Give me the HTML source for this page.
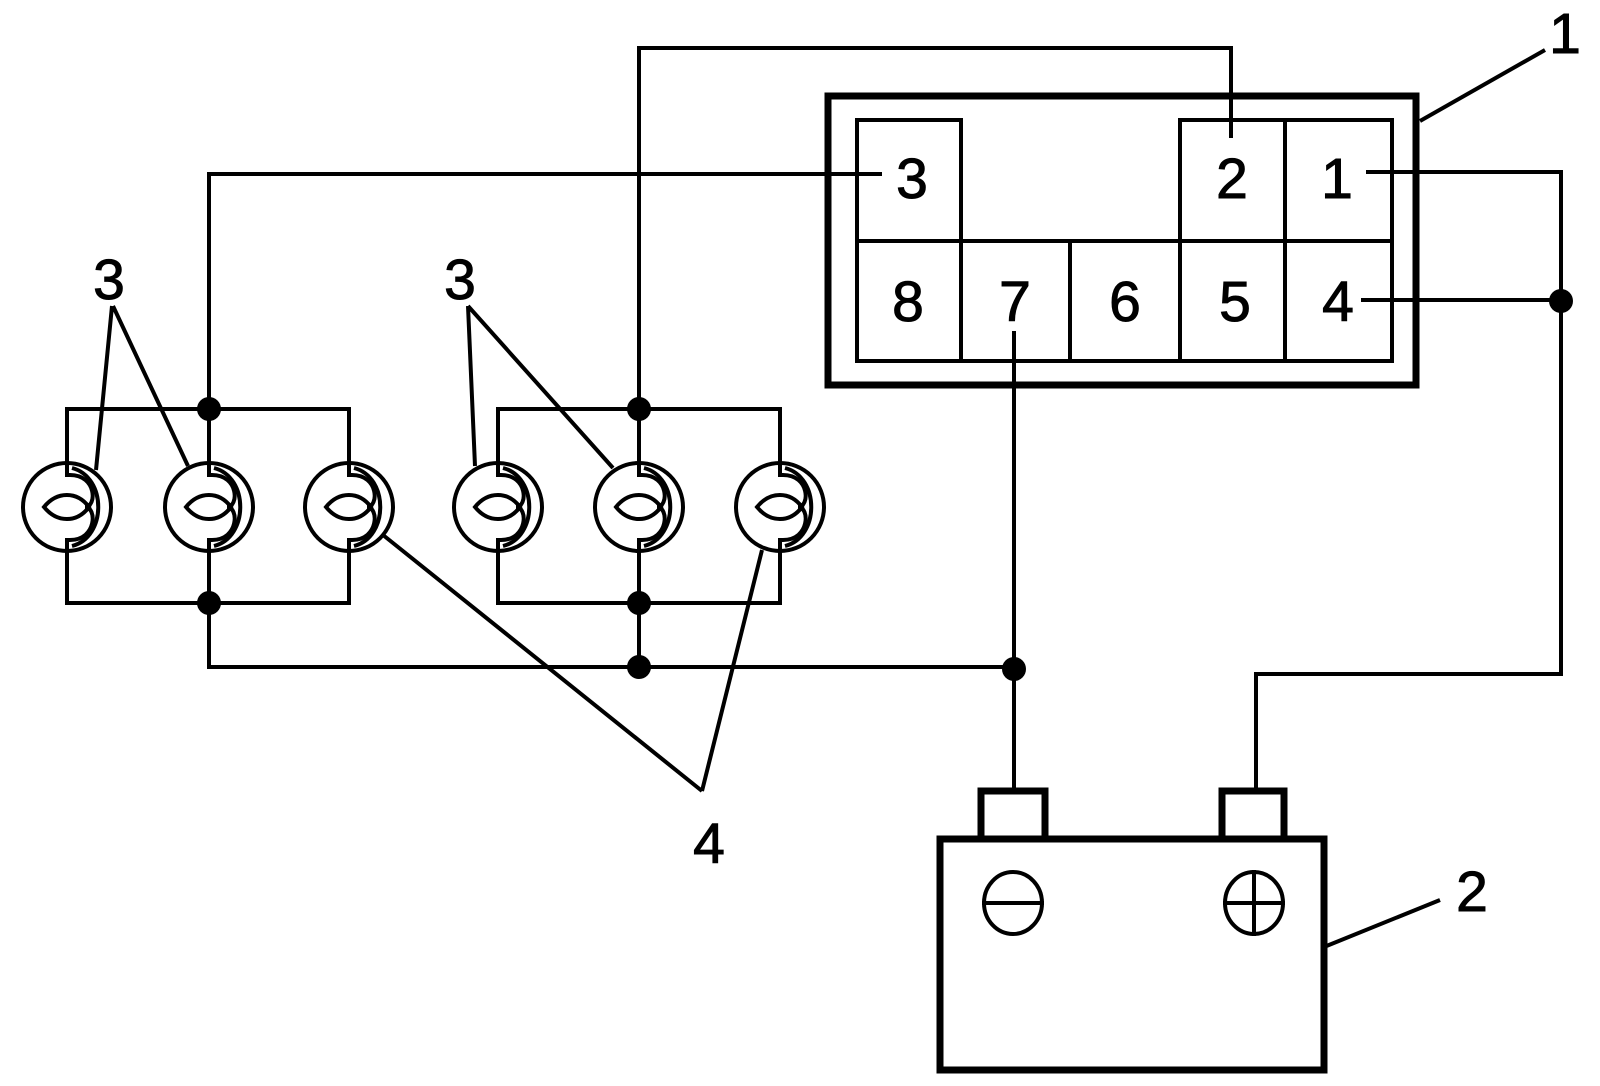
<!DOCTYPE html>
<html><head><meta charset="utf-8"><style>
html,body{margin:0;padding:0;background:#fff;}
svg{display:block;}
text{font-family:"Liberation Sans",sans-serif;font-size:57px;fill:#000;text-anchor:middle;stroke:#000;stroke-width:1;}
</style></head><body>
<svg width="1600" height="1086" viewBox="0 0 1600 1086" xmlns="http://www.w3.org/2000/svg">
<defs>
<g id="lamp" fill="none" stroke="#000" stroke-width="4">
  <circle cx="0" cy="0" r="44"/>
  <path d="M0,-44 V-32 H3 C30,-32 30,0 18,0 C30,0 30,33 3,33 H0 V44"/>
  <path d="M5,-39 C40,-30 40,30 5,39"/>
  <path d="M-23,0 C-10,-16 10,-16 22,0 C10,16 -10,16 -23,0 Z"/>
</g>
</defs>
<g fill="none" stroke="#000" stroke-width="4" stroke-linecap="square">
  <rect x="828" y="96" width="588" height="289" stroke-width="7"/>
  <path d="M857,120 H961 M1180,120 H1392 M857,120 V361 H1392 V120 M857,241 H1392 M961,120 V361 M1070,241 V361 M1180,120 V361 M1285,120 V361"/>
  <path d="M639,409 V48 H1231 V136"/>
  <path d="M880,174 H209 V409"/>
  <path d="M1368,172 H1561 V674 H1256 V788"/>
  <path d="M1363,300 H1561"/>
  <path d="M1014,333 V788"/>
  <path d="M209,667 H1014"/>
  <path d="M67,463 V409 H349 V463 M67,551 V603 H349 V551 M209,409 V463 M209,551 V667"/>
  <path d="M498,463 V409 H780 V463 M498,551 V603 H780 V551 M639,409 V463 M639,551 V667"/>
  <path d="M112,306 L96,470 M113,306 L188,466 M468,306 L475,466 M468,306 L613,468" stroke-linecap="butt"/>
  <path d="M702,791 L383,535 M702,791 L762,550" stroke-linecap="butt"/>
  <path d="M1420,121 L1545,50" stroke-linecap="butt"/>
  <path d="M1324,947 L1440,900" stroke-linecap="butt"/>
  <rect x="940" y="839" width="384" height="231" stroke-width="7"/>
  <rect x="981" y="791" width="64" height="48" stroke-width="7"/>
  <rect x="1222" y="791" width="62" height="48" stroke-width="7"/>
  <ellipse cx="1013" cy="903" rx="29" ry="31"/>
  <path d="M984,903 H1042"/>
  <ellipse cx="1254" cy="903" rx="29" ry="31"/>
  <path d="M1225,903 H1283 M1254,872 V934"/>
</g>
<use href="#lamp" x="67" y="507"/>
<use href="#lamp" x="209" y="507"/>
<use href="#lamp" x="349" y="507"/>
<use href="#lamp" x="498" y="507"/>
<use href="#lamp" x="639" y="507"/>
<use href="#lamp" x="780" y="507"/>
<g fill="#000">
  <circle cx="209" cy="409" r="12"/>
  <circle cx="209" cy="603" r="12"/>
  <circle cx="639" cy="409" r="12"/>
  <circle cx="639" cy="603" r="12"/>
  <circle cx="639" cy="667" r="12"/>
  <circle cx="1014" cy="669" r="12"/>
  <circle cx="1561" cy="301" r="12"/>
</g>
<text x="912" y="198">3</text>
<text x="1232" y="198">2</text>
<text x="1337" y="198">1</text>
<text x="908" y="321">8</text>
<text x="1015" y="321">7</text>
<text x="1125" y="321">6</text>
<text x="1235" y="321">5</text>
<text x="1338" y="321">4</text>
<text x="1565" y="53">1</text>
<text x="1472" y="911">2</text>
<text x="109" y="299">3</text>
<text x="460" y="299">3</text>
<text x="709" y="863">4</text>
</svg>
</body></html>
